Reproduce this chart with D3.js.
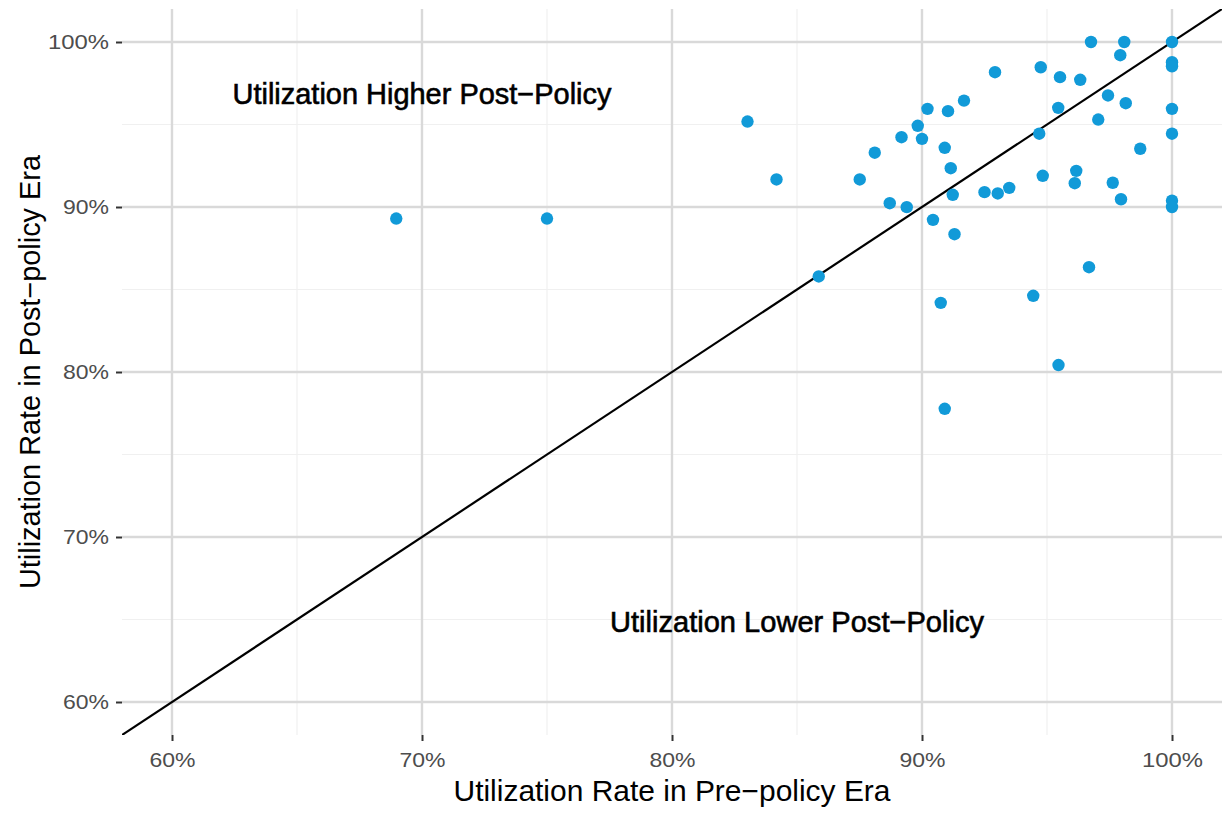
<!DOCTYPE html>
<html>
<head>
<meta charset="utf-8">
<script src="https://cdn.jsdelivr.net/npm/d3@7/dist/d3.min.js"></script>
<style>
  body { margin: 0; background: #fff; }
  svg { display: block; font-family: "Liberation Sans", Arial, sans-serif; }
</style>
</head>
<body>
<svg width="1225" height="815"></svg>
<script>
// utilization rate before / after the policy, one entry per facility (percent)
var preRate = [68.97, 75.0, 83.02, 84.18, 85.87, 87.51, 88.11, 88.71, 89.18, 89.39,
    89.83, 90.0, 90.22, 90.44, 90.75, 90.91, 90.91, 91.04, 91.15, 91.23,
    91.3, 91.68, 92.5, 92.92, 93.03, 93.49, 94.45, 94.69, 94.75, 94.83,
    95.46, 95.45, 95.52, 96.17, 96.11, 96.33, 96.68, 96.76, 97.05, 97.44,
    97.63, 97.93, 97.96, 98.09, 98.15, 98.73, 100, 100, 100, 100,
    100, 100, 100];
var postRate = [89.3, 89.3, 95.18, 91.67, 85.79, 91.67, 93.29, 90.23, 94.23, 89.99,
    94.92, 94.13, 95.95, 89.22, 84.19, 93.59, 77.77, 95.81, 92.35, 90.74,
    88.35, 96.45, 90.9, 98.17, 90.82, 91.16, 84.62, 94.44, 98.47, 91.89,
    80.42, 96.01, 97.87, 92.19, 91.44, 97.71, 86.35, 100, 95.3, 96.76,
    91.47, 99.2, 90.47, 100, 96.29, 93.53, 100, 98.78, 98.53, 95.95,
    94.44, 90.38, 90.0];

var xTicks = [60, 70, 80, 90, 100];
var yTicks = [60, 70, 80, 90, 100];
var minorTicks = [65, 75, 85, 95];

var notes = [
    {label: "Utilization Higher Post\u2212Policy", x: 70, y: 97, len: 379},
    {label: "Utilization Lower Post\u2212Policy", x: 85, y: 65, len: 374}
];

var svg = d3.select("svg");
var pLeft = 122, pRight = 1222, pTop = 9, pBottom = 735;

var x = d3.scaleLinear().domain([58, 102]).range([pLeft, pRight]);
var y = d3.scaleLinear().domain([58, 102]).range([pBottom, pTop]);

// minor grid
svg.append("g").selectAll("line").data(minorTicks).enter().append("line")
    .attr("x1", d => x(d)).attr("x2", d => x(d)).attr("y1", pTop).attr("y2", pBottom)
    .attr("stroke", "#f0f0f0").attr("stroke-width", 1.2);
svg.append("g").selectAll("line").data(minorTicks).enter().append("line")
    .attr("y1", d => y(d)).attr("y2", d => y(d)).attr("x1", pLeft).attr("x2", pRight)
    .attr("stroke", "#f0f0f0").attr("stroke-width", 1.2);

// major grid
svg.append("g").selectAll("line").data(xTicks).enter().append("line")
    .attr("x1", d => x(d)).attr("x2", d => x(d)).attr("y1", pTop).attr("y2", pBottom)
    .attr("stroke", "#d9d9d9").attr("stroke-width", 2.4);
svg.append("g").selectAll("line").data(yTicks).enter().append("line")
    .attr("y1", d => y(d)).attr("y2", d => y(d)).attr("x1", pLeft).attr("x2", pRight)
    .attr("stroke", "#d9d9d9").attr("stroke-width", 2.4);

// axes
var xAxis = svg.append("g").attr("transform", "translate(0," + pBottom + ")")
    .call(d3.axisBottom(x).tickValues(xTicks).tickSize(6).tickPadding(6)
        .tickFormat(d => d + "%"));
var yAxis = svg.append("g").attr("transform", "translate(" + pLeft + ",0)")
    .call(d3.axisLeft(y).tickValues(yTicks).tickSize(6).tickPadding(7)
        .tickFormat(d => d + "%"));
[xAxis, yAxis].forEach(function (a) {
    a.select(".domain").remove();
    a.selectAll(".tick line").attr("stroke", "#333").attr("stroke-width", 2);
    a.selectAll(".tick text").attr("fill", "#4d4d4d")
        .style("font-family", "Liberation Sans, Arial, sans-serif")
        .style("font-size", "21px")
        .attr("lengthAdjust", "spacingAndGlyphs")
        .attr("textLength", d => d == 100 ? 61 : 46);
});
xAxis.selectAll(".tick text").attr("dy", "0.95em");

// clip
svg.append("clipPath").attr("id", "panel").append("rect")
    .attr("x", pLeft).attr("y", pTop).attr("width", pRight - pLeft).attr("height", pBottom - pTop);

// 45 degree line
svg.append("line")
    .attr("clip-path", "url(#panel)")
    .attr("x1", x(58)).attr("y1", y(58)).attr("x2", x(102)).attr("y2", y(102))
    .attr("stroke", "#000").attr("stroke-width", 2.2);

// points
svg.append("g").selectAll("circle").data(preRate).enter().append("circle")
    .attr("cx", d => x(d))
    .attr("cy", (d, i) => y(postRate[i]))
    .attr("r", 6.2)
    .attr("fill", "#119ad8");

// annotations
svg.append("g").selectAll("text").data(notes).enter().append("text")
    .attr("x", d => x(d.x)).attr("y", d => y(d.y) + 12)
    .attr("text-anchor", "middle")
    .attr("textLength", d => d.len).attr("lengthAdjust", "spacingAndGlyphs")
    .style("font-size", "29px")
    .attr("fill", "#000").attr("stroke", "#000").attr("stroke-width", 0.6)
    .text(d => d.label);

// axis titles
svg.append("text")
    .attr("x", (pLeft + pRight) / 2).attr("y", 801)
    .attr("text-anchor", "middle")
    .attr("textLength", 437).attr("lengthAdjust", "spacingAndGlyphs")
    .style("font-size", "29px")
    .text("Utilization Rate in Pre\u2212policy Era");

svg.append("text")
    .attr("transform", "translate(40," + ((pTop + pBottom) / 2) + ") rotate(-90)")
    .attr("text-anchor", "middle")
    .attr("textLength", 434).attr("lengthAdjust", "spacingAndGlyphs")
    .style("font-size", "29px")
    .text("Utilization Rate in Post\u2212policy Era");
</script>
</body>
</html>
